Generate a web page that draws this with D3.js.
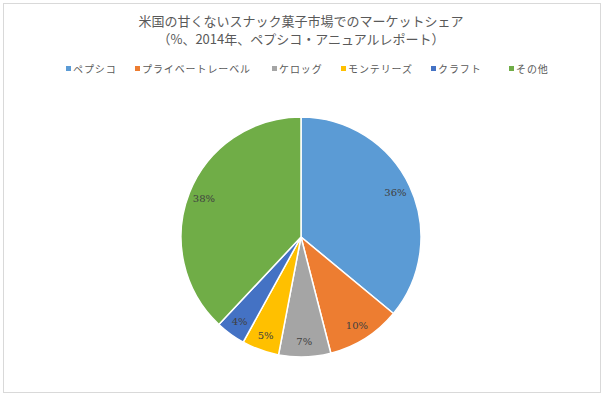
<!DOCTYPE html>
<html>
<head>
<meta charset="utf-8">
<script src="https://cdn.jsdelivr.net/npm/d3@7"></script>
<style>
  body { margin: 0; background: #fff; }
  text { font-family: "Noto Sans CJK JP", "Noto Sans", sans-serif; fill: #404040; }
</style>
</head>
<body>
<svg width="604" height="396"></svg>
<script>
// data
var categories = ["ペプシコ", "プライベートレーベル", "ケロッグ", "モンテリーズ", "クラフト", "その他"];
var shares = [36, 10, 7, 5, 4, 38];
var colors = ["#5b9bd5", "#ed7d31", "#a5a5a5", "#ffc000", "#4472c4", "#70ad47"];
var legendX = [66, 135, 272, 341, 431, 509];

var svg = d3.select("svg");

// frame
svg.append("rect")
  .attr("x", 3.5).attr("y", 3.5)
  .attr("width", 597).attr("height", 389)
  .attr("fill", "#fff")
  .attr("stroke", "#d9d9d9");

// title
var titleLines = ["米国の甘くないスナック菓子市場でのマーケットシェア", "（%、2014年、ペプシコ・アニュアルレポート）"];
svg.append("g").selectAll("text")
  .data(titleLines)
  .enter().append("text")
  .attr("x", 301)
  .attr("y", function(d, i) { return 26 + i * 18; })
  .attr("text-anchor", "middle")
  .style("font-size", "13px")
  .style("fill", "#595959")
  .text(function(d) { return d; });

// legend
var legend = svg.append("g").selectAll("g")
  .data(categories)
  .enter().append("g")
  .attr("transform", function(d, i) { return "translate(" + legendX[i] + ",69)"; });
legend.append("rect")
  .attr("x", 0).attr("y", -3)
  .attr("width", 5).attr("height", 5)
  .attr("fill", function(d, i) { return colors[i]; });
legend.append("text")
  .attr("x", 7).attr("y", 4)
  .style("font-size", "10px")
  .style("letter-spacing", "0.9px")
  .style("fill", "#595959")
  .text(function(d) { return d; });

// pie
var cx = 301, cy = 237, r = 120;
var pie = d3.pie().sort(null).value(function(d) { return d; });
var arc = d3.arc().innerRadius(0).outerRadius(r);
var labelArc = d3.arc().innerRadius(r * 0.87).outerRadius(r * 0.87);

var g = svg.append("g").attr("transform", "translate(" + cx + "," + cy + ")");
g.selectAll("path")
  .data(pie(shares))
  .enter().append("path")
  .attr("d", arc)
  .attr("fill", function(d, i) { return colors[i]; })
  .attr("stroke", "#fff")
  .attr("stroke-width", 1.5);

g.selectAll("text.lbl")
  .data(pie(shares))
  .enter().append("text")
  .attr("class", "lbl")
  .attr("transform", function(d) { return "translate(" + labelArc.centroid(d) + ")"; })
  .attr("text-anchor", "middle")
  .attr("dy", "0.35em")
  .style("font-family", "'DejaVu Serif', serif")
  .style("font-size", "10px")
  .text(function(d) { return d.data + "%"; });
</script>
</body>
</html>
